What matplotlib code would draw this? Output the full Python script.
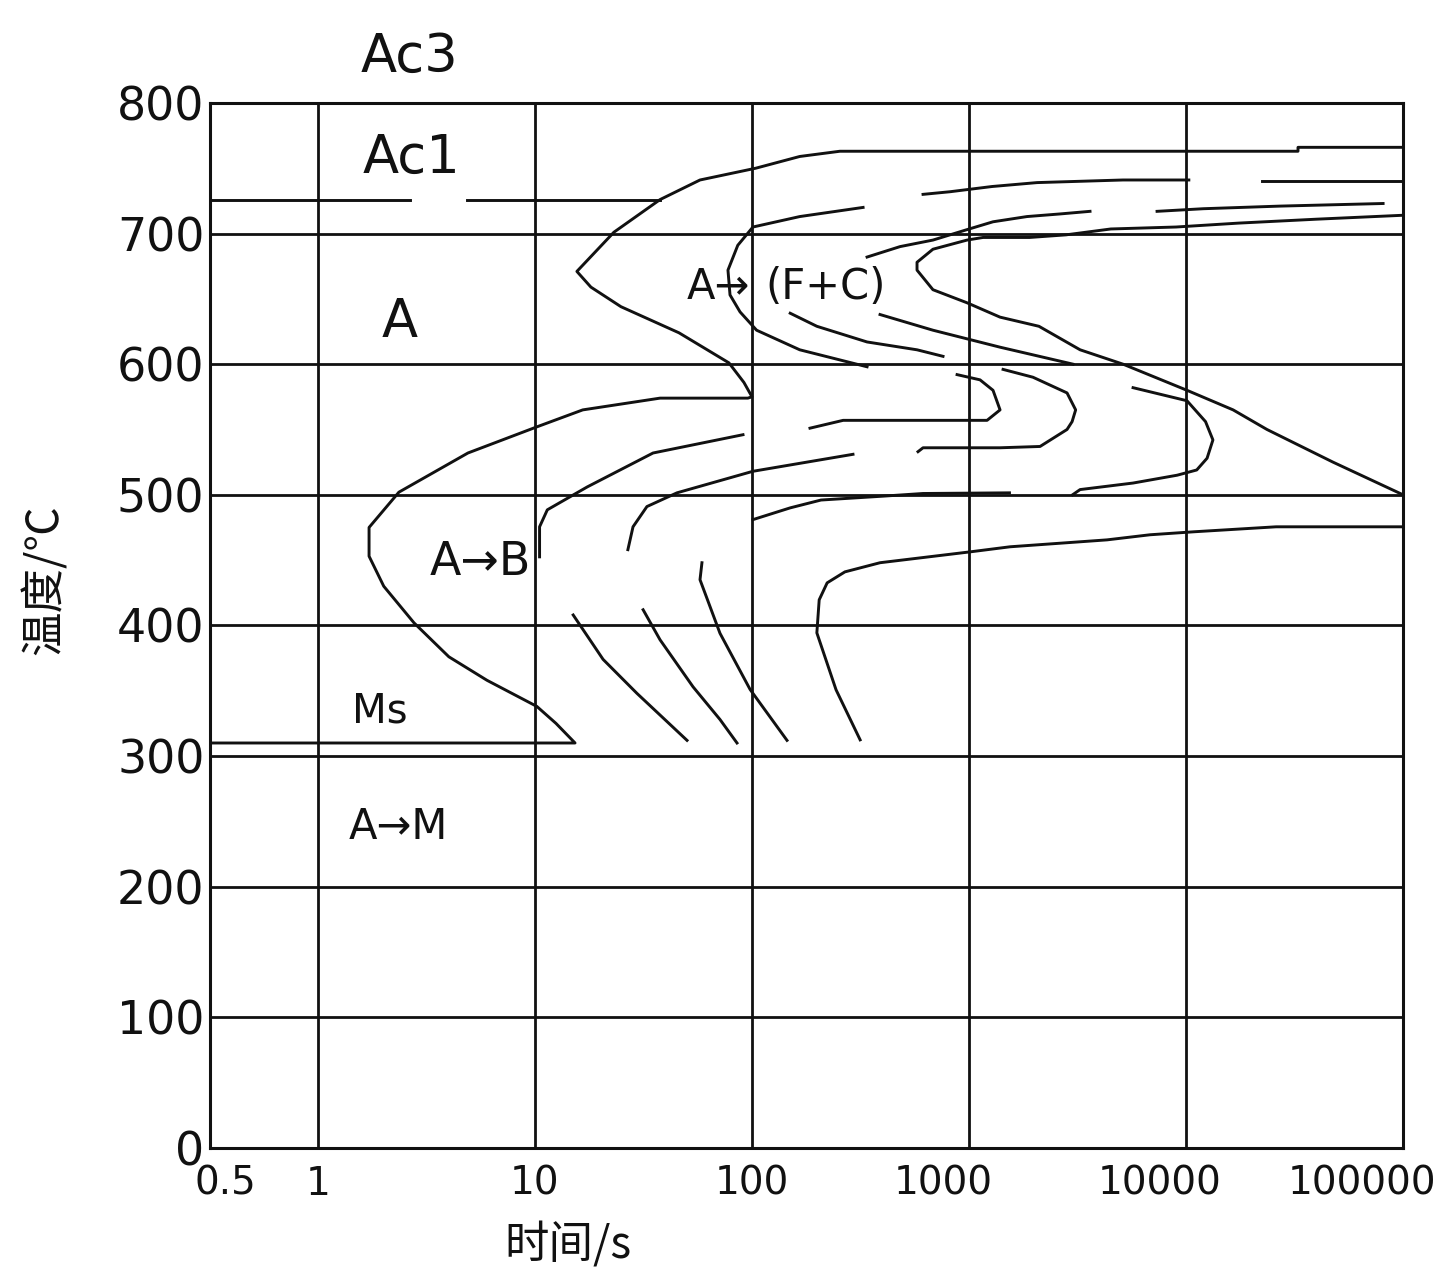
import matplotlib
matplotlib.use("Agg")
import matplotlib.pyplot as plt
from matplotlib.ticker import NullLocator
from matplotlib.transforms import ScaledTranslation

# isothermal transformation diagram, time in s, temperature in deg C
ac1_left_t = [0.318, 2.65]
ac1_left_T = [726, 726]
ac1_right_t = [4.86, 37.7]
ac1_right_T = [726, 726]

outer_t = [1e5, 32800, 32800, 254, 166, 104, 57.6, 37.7, 23.1, 15.6, 18.1, 24.9, 46.1, 78.3,
           91.8, 100, 95.7, 37.7, 16.6, 10.2, 4.91, 2.36, 1.72, 1.72, 2.01, 2.77, 4.01, 6.01,
           10.2, 12.5, 15.3, 0.318]
outer_T = [766, 766, 763, 763, 759, 750, 741, 726, 701, 671, 659, 644, 624, 601,
           586, 575, 574, 574, 565, 552, 532, 502, 475, 453, 430, 402, 376, 358,
           338, 325, 310, 310]

p2_top_right_t = [22390, 1e5]
p2_top_right_T = [740, 740]
p2_top_left_t = [614, 817, 1276, 2058, 5125, 10300]
p2_top_left_T = [730, 732, 736, 739, 741, 741]
p2_nose_t = [325, 166, 101, 86, 77.5, 79.2, 88.1, 105, 166, 339]
p2_nose_T = [720, 713, 705, 691, 672, 653, 640, 626, 611, 598]

p3_upper_t = [339, 481, 682, 979, 1290, 1849, 2625, 3610]
p3_upper_T = [682, 690, 695, 703, 709, 713, 715, 717]
p3_upper_right_t = [7353, 12000, 27000, 80900]
p3_upper_right_T = [717, 719, 721, 723]
p3_lower_t = [150, 199, 339, 576, 759]
p3_lower_T = [639, 629, 617, 611, 606]

p4_t = [1e5, 40000, 17500, 9000, 4500, 2800, 1900, 1160, 979, 682, 576, 576, 682, 979,
        1390, 2100, 3250, 5125, 10100, 16480, 23600, 47550, 1e5]
p4_T = [714, 711, 708, 705, 703.5, 699, 697, 697, 695, 688, 678, 672, 657, 647,
        636, 629, 611, 600, 580, 565, 550, 525, 500]

p5_t = [389, 682, 1390, 3015]
p5_T = [638, 626, 613, 600]

n1_t = [881, 1124, 1290, 1390, 1211, 938, 263, 185]
n1_T = [592, 588, 580, 565, 557, 557, 557, 551]
n2_t = [1435, 1971, 2829, 3100, 2985, 2829, 2125, 1390, 614, 582]
n2_T = [596, 590, 578, 565, 556, 550, 537, 536, 536, 533]
n3_t = [5700, 10100, 12300, 13300, 12500, 11200, 9100, 5700, 3250, 3000]
n3_T = [582, 572, 556, 542, 528, 519, 515, 509, 504, 500]

b1_t = [90.9, 35.0, 17.4, 11.4, 10.5, 10.5]
b1_T = [546, 532, 506, 488.5, 475.5, 452.5]
b2_t = [292, 101, 45.1, 32.8, 28.3, 26.8]
b2_T = [531, 518, 501.5, 491, 475.5, 458]
b4_t = [101, 150, 208, 405, 614, 1536]
b4_T = [481, 490, 496, 499, 501, 501.5]

l1_t = [15.0, 20.6, 29.5, 50.2]
l1_T = [408, 374, 348, 312]
l2_t = [31.5, 37.7, 53.5, 71.2, 85.3]
l2_T = [412, 389, 353, 328, 310]
l3_t = [58.8, 57.6, 71.2, 98.0, 145]
l3_T = [448, 435, 394, 351, 312]
l4_t = [1e5, 26000, 10900, 6823, 4325, 1545, 1021, 389, 268, 222, 204, 199, 244, 315]
l4_T = [475.5, 475.5, 471.7, 469.4, 465.5, 460.2, 456.4, 448, 441, 432.6, 419.6, 394.3, 350.7, 312.4]

x_ticks = [0.5, 1, 10, 100, 1000, 10000, 100000]
x_tick_labels = ["0.5", "1", "10", "100", "1000", "10000", "100000"]
x_label_shift_px = [-27, 0, 0, 0, -26, -26, -41]
y_ticks = [0, 100, 200, 300, 400, 500, 600, 700, 800]
x_grid = [1, 10, 100, 1000, 10000]
y_grid = [100, 200, 300, 400, 500, 600, 700]

INK = "#111111"

fig = plt.figure(figsize=(14.49, 12.69), dpi=100)
ax = fig.add_axes([0.1449, 0.0954, 0.8234, 0.8235])
ax.set_xscale("log")
ax.set_xlim(0.318, 1e5)
ax.set_ylim(0, 800)

for y in y_grid:
    ax.axhline(y, color=INK, lw=2)
for x in x_grid:
    ax.axvline(x, color=INK, lw=2)
for s in ax.spines.values():
    s.set_linewidth(2.2)
    s.set_color(INK)

strokes = [
    (ac1_left_t, ac1_left_T), (ac1_right_t, ac1_right_T), (outer_t, outer_T),
    (p2_top_right_t, p2_top_right_T), (p2_top_left_t, p2_top_left_T), (p2_nose_t, p2_nose_T),
    (p3_upper_t, p3_upper_T), (p3_upper_right_t, p3_upper_right_T), (p3_lower_t, p3_lower_T),
    (p4_t, p4_T), (p5_t, p5_T), (n1_t, n1_T), (n2_t, n2_T), (n3_t, n3_T),
    (b1_t, b1_T), (b2_t, b2_T), (b4_t, b4_T),
    (l1_t, l1_T), (l2_t, l2_T), (l3_t, l3_T), (l4_t, l4_T),
]
for t, T in strokes:
    ax.plot(t, T, color=INK, lw=2.1)

# region labels
ax.text(2.65, 835, "Ac3", fontsize=38, ha="center", va="center", color=INK, clip_on=False)
ax.text(2.71, 758, "Ac1", fontsize=38, ha="center", va="center", color=INK)
ax.text(2.39, 632, "A", fontsize=38, ha="center", va="center", color=INK)
ax.text(98, 659, "A→", fontsize=30, ha="right", va="center", color=INK)
ax.text(115, 659, "(F+C)", fontsize=30, ha="left", va="center", color=INK)
ax.text(5.58, 448, "A→B", fontsize=33, ha="center", va="center", color=INK)
ax.text(1.93, 334, "Ms", fontsize=29, ha="center", va="center", color=INK)
ax.text(2.34, 246, "A→M", fontsize=30, ha="center", va="center", color=INK)

ax.set_xticks(x_ticks)
ax.set_xticklabels(x_tick_labels)
ax.xaxis.set_minor_locator(NullLocator())
ax.set_yticks(y_ticks)
ax.tick_params(axis="x", length=0, labelsize=28, pad=12, colors=INK)
ax.tick_params(axis="y", length=0, labelsize=33, pad=4, colors=INK)
for lab, dx in zip(ax.get_xticklabels(), x_label_shift_px):
    lab.set_transform(lab.get_transform() + ScaledTranslation(dx / 100, 0, fig.dpi_scale_trans))

cjk = ["Noto Sans CJK SC", "DejaVu Sans"]
fig.text(45 / 1449, 1 - 580 / 1269, "温度/℃", rotation=90, fontsize=32,
         family=cjk, ha="center", va="center", color=INK)
fig.text(568 / 1449, 1 - 1245 / 1269, "时间/s", fontsize=32,
         family=cjk, ha="center", va="center", color=INK)

fig.savefig("out.png", dpi=100, facecolor="white")
